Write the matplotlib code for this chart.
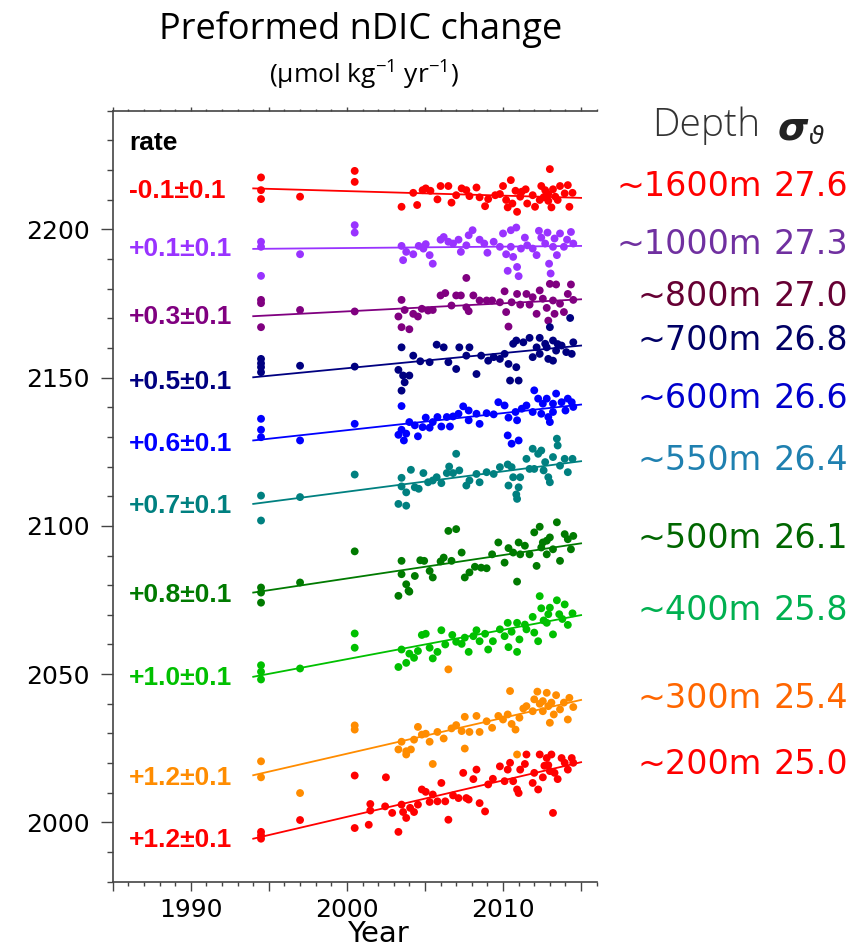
import matplotlib
matplotlib.use('Agg')
import matplotlib.pyplot as plt
from matplotlib.ticker import MultipleLocator

plt.rcParams['mathtext.fontset'] = 'custom'
plt.rcParams['mathtext.rm'] = 'Open Sans'
plt.rcParams['mathtext.it'] = 'Open Sans:italic'
plt.rcParams['mathtext.bf'] = 'Open Sans:bold'

# ---------------- data ----------------
depth_labels = ['~1600m', '~1000m', '~800m', '~700m', '~600m', '~550m', '~500m', '~400m', '~300m', '~200m']
sigma_labels = ['27.6', '27.3', '27.0', '26.8', '26.6', '26.4', '26.1', '25.8', '25.4', '25.0']
rate_labels = ['-0.1\u00b10.1', '+0.1\u00b10.1', '+0.3\u00b10.1', '+0.5\u00b10.1', '+0.6\u00b10.1',
               '+0.7\u00b10.1', '+0.8\u00b10.1', '+1.0\u00b10.1', '+1.2\u00b10.1', '+1.2\u00b10.1']

trend_years = [1994.0, 2015.0]
trend_start = [2213.8, 2193.4, 2170.7, 2150.1, 2128.8, 2107.4, 2077.5, 2049.1, 2015.9, 1994.5]
trend_end = [2210.6, 2194.4, 2176.4, 2160.8, 2140.9, 2121.8, 2094.1, 2069.9, 2041.3, 2020.3]

yr_1600 = [1994.5,1994.5,1994.5,1997.0,2000.5,2000.5,2003.5,2004.25,2004.5,2004.85,2005.05,2005.35,2005.8,2006.0,2006.5,2006.7,2007.0,2007.35,2007.65,2007.85,2008.3,2008.5,2008.85,2009.05,2009.5,2009.8,2010.0,2010.2,2010.3,2010.5,2010.8,2010.9,2011.1,2011.45,2011.55,2011.9,2012.05,2012.45,2012.6,2012.8,2012.9,2013.0,2013.1,2013.2,2013.35,2013.5,2013.65,2013.95,2014.15,2014.25,2014.45,2012.35,2012.7,2012.9,2010.6,2011.2]
val_1600 = [2217.5,2213.2,2210.2,2211.0,2219.7,2216.0,2207.6,2212.3,2208.2,2213.2,2213.8,2213.0,2210.1,2214.6,2214.6,2209.0,2211.5,2213.8,2213.2,2211.2,2214.1,2210.8,2207.8,2210.2,2211.5,2211.9,2214.6,2209.9,2207.4,2216.6,2213.0,2205.9,2211.0,2213.5,2208.7,2211.5,2207.6,2214.6,2210.8,2212.1,2209.6,2220.3,2207.4,2213.5,2211.0,2209.9,2214.6,2212.1,2214.9,2207.6,2212.3,2209.9,2213.2,2211.9,2208.7,2212.7]

yr_1000 = [1994.5,1994.5,1994.5,1997.0,2000.5,2000.5,2003.5,2003.6,2003.8,2004.25,2004.6,2004.9,2005.05,2005.3,2005.5,2006.0,2006.2,2006.5,2006.8,2007.15,2007.3,2007.65,2007.8,2008.05,2008.5,2008.8,2009.0,2009.4,2009.8,2010.0,2010.2,2010.3,2010.5,2010.5,2010.65,2010.85,2010.9,2011.0,2011.15,2011.4,2011.55,2011.9,2012.15,2012.3,2012.45,2012.7,2012.85,2012.95,2013.05,2013.2,2013.3,2013.45,2013.65,2013.9,2014.1,2014.35,2014.5]
val_1000 = [2195.8,2194.1,2184.3,2191.6,2201.4,2198.9,2194.4,2189.6,2192.4,2191.6,2194.4,2193.5,2195.0,2191.3,2188.4,2196.5,2197.4,2195.8,2195.2,2196.5,2192.4,2194.6,2198.0,2199.7,2196.5,2195.2,2192.1,2195.8,2194.1,2198.6,2191.6,2186.0,2199.7,2194.1,2190.7,2200.6,2187.3,2184.2,2193.5,2197.2,2194.6,2193.5,2191.3,2199.5,2197.2,2195.2,2198.9,2188.4,2185.1,2194.1,2196.9,2191.3,2198.6,2194.1,2196.5,2199.1,2195.2]

yr_800 = [1994.5,1994.5,1994.5,1997.0,2000.5,2003.5,2003.3,2003.5,2003.7,2004.0,2004.25,2004.55,2004.8,2005.2,2005.5,2006.0,2006.3,2006.7,2007.0,2007.3,2007.65,2007.8,2008.1,2007.65,2008.5,2008.95,2009.3,2009.8,2010.1,2010.2,2010.35,2010.55,2010.9,2011.1,2011.5,2011.9,2012.15,2012.35,2012.55,2012.8,2013.0,2013.2,2013.3,2013.4,2013.65,2013.9,2014.15,2014.35,2014.5,2012.9,2011.7]
val_800 = [2176.2,2175.1,2167.0,2172.8,2172.3,2176.2,2170.6,2167.0,2172.8,2166.3,2171.5,2170.6,2173.2,2172.6,2172.8,2177.7,2178.5,2174.3,2177.7,2177.7,2173.7,2172.4,2177.7,2183.6,2176.0,2176.0,2176.0,2175.4,2179.1,2172.1,2167.2,2175.4,2178.2,2174.6,2178.2,2177.1,2171.5,2179.4,2176.6,2173.5,2181.6,2176.0,2171.5,2181.4,2174.9,2172.1,2178.2,2181.4,2176.2,2169.2,2174.6]

yr_700 = [1994.5,1994.5,1994.5,1994.5,1997.0,2000.5,2003.3,2003.5,2003.6,2003.7,2003.5,2004.0,2004.25,2004.7,2005.3,2005.75,2006.2,2006.5,2007.0,2007.2,2007.65,2007.85,2008.3,2008.6,2009.05,2009.4,2009.8,2010.1,2010.35,2010.45,2010.85,2011.0,2010.65,2011.3,2011.9,2012.15,2012.35,2012.7,2012.9,2013.2,2013.4,2013.75,2014.05,2014.4,2014.5,2010.85,2011.7,2012.35,2013.0,2014.3,2012.8,2013.2,2013.5]
val_700 = [2156.3,2154.8,2153.5,2151.8,2154.0,2153.7,2152.6,2160.2,2150.7,2148.4,2145.6,2150.7,2157.4,2155.5,2155.2,2161.1,2160.2,2155.2,2152.9,2160.2,2157.4,2160.2,2151.2,2157.4,2155.7,2156.9,2156.3,2158.0,2154.6,2149.0,2153.5,2149.0,2161.4,2161.9,2156.9,2160.2,2158.0,2161.4,2156.3,2155.7,2159.1,2160.8,2158.6,2158.0,2161.9,2162.5,2163.4,2163.4,2167.0,2170.1,2160.2,2162.5,2161.3]

yr_600 = [1994.5,1994.5,1994.5,1997.0,2000.5,2003.3,2003.5,2003.5,2003.65,2003.8,2004.0,2004.35,2004.55,2004.85,2005.05,2005.3,2005.5,2005.8,2006.05,2006.4,2006.6,2006.8,2007.15,2007.45,2007.8,2007.8,2008.3,2008.5,2008.95,2009.4,2009.7,2010.1,2010.3,2010.35,2010.55,2010.8,2010.9,2011.0,2011.2,2011.5,2011.9,2012.0,2012.25,2012.55,2012.8,2012.9,2013.0,2013.2,2013.4,2013.75,2014.0,2014.15,2014.4,2014.5,2012.45,2013.2]
val_600 = [2136.1,2132.4,2129.9,2128.8,2134.4,2130.7,2140.4,2132.4,2128.8,2131.1,2135.0,2133.9,2130.2,2133.3,2136.5,2133.1,2135.0,2136.7,2133.5,2136.7,2133.5,2136.9,2137.8,2140.3,2135.6,2138.9,2137.8,2134.4,2138.0,2137.6,2141.7,2140.6,2130.5,2136.5,2127.7,2138.4,2135.6,2128.8,2139.5,2140.6,2138.4,2145.7,2142.9,2141.2,2142.9,2136.7,2135.0,2138.4,2144.6,2141.7,2138.9,2142.9,2141.7,2140.1,2137.8,2141.2]

yr_550 = [1994.5,1994.5,1997.0,2000.5,2003.3,2003.8,2003.5,2003.5,2003.8,2004.1,2004.35,2004.6,2004.9,2005.2,2005.5,2005.75,2006.05,2006.4,2006.55,2006.8,2007.0,2007.2,2007.65,2007.85,2008.3,2008.5,2008.95,2009.4,2009.8,2010.3,2010.35,2010.55,2010.65,2010.85,2010.9,2011.0,2011.1,2011.5,2011.9,2012.0,2012.25,2012.45,2012.7,2012.9,2013.0,2013.2,2013.45,2013.5,2013.65,2013.95,2014.15,2014.45,2012.6,2011.7]
val_550 = [2110.2,2101.8,2109.7,2117.3,2107.4,2106.8,2116.2,2113.3,2111.3,2118.9,2113.0,2112.5,2117.8,2114.7,2115.3,2116.4,2114.4,2117.8,2120.0,2117.8,2124.3,2118.7,2113.6,2115.3,2117.5,2114.7,2118.1,2117.5,2119.8,2120.7,2113.6,2119.8,2116.4,2110.6,2109.1,2113.0,2116.4,2122.6,2126.0,2119.2,2124.3,2125.4,2121.5,2116.4,2114.7,2123.2,2129.4,2127.1,2120.3,2122.6,2118.1,2122.6,2118.7,2119.2]

yr_500 = [1994.5,1994.5,1994.5,1997.0,2000.5,2003.5,2003.5,2003.8,2003.95,2003.3,2004.0,2004.35,2004.7,2004.95,2005.3,2005.5,2006.0,2006.2,2006.5,2007.0,2006.7,2007.35,2007.55,2007.85,2008.2,2008.6,2008.95,2009.3,2009.7,2010.1,2010.35,2010.65,2010.9,2011.0,2011.1,2011.4,2011.7,2012.0,2012.15,2012.35,2012.55,2012.8,2013.0,2013.2,2013.45,2013.65,2013.95,2014.15,2014.35,2014.5,2012.8,2012.45]
val_500 = [2079.2,2077.5,2074.1,2080.9,2091.4,2088.2,2083.7,2080.3,2078.1,2076.4,2077.8,2083.1,2088.4,2088.2,2084.8,2082.6,2088.0,2089.3,2098.3,2098.9,2088.2,2091.0,2082.6,2084.3,2086.2,2085.9,2085.7,2090.4,2094.4,2087.6,2092.5,2091.0,2081.2,2094.4,2090.4,2093.3,2090.4,2097.8,2086.5,2099.7,2094.4,2090.4,2096.1,2092.1,2101.2,2088.2,2097.2,2095.5,2092.1,2096.6,2095.0,2092.7]

yr_400 = [1994.5,1994.5,1994.5,1997.0,2000.5,2000.5,2003.3,2003.5,2003.8,2004.0,2004.3,2004.55,2004.8,2005.05,2005.3,2005.5,2005.8,2006.05,2006.3,2006.75,2007.0,2007.35,2007.55,2007.8,2008.1,2008.3,2008.5,2008.85,2009.05,2009.35,2009.8,2010.1,2010.3,2010.35,2010.55,2010.9,2010.9,2011.05,2011.4,2011.5,2011.9,2012.0,2012.25,2012.35,2012.45,2012.6,2012.9,2013.0,2013.2,2013.45,2013.6,2013.95,2014.15,2014.45,2012.8,2013.8]
val_400 = [2053.0,2050.8,2048.2,2051.9,2063.7,2058.9,2052.4,2058.3,2053.8,2056.9,2055.5,2057.8,2063.2,2063.6,2058.9,2055.3,2057.5,2064.8,2060.0,2063.2,2060.9,2060.2,2062.3,2057.5,2062.8,2064.8,2061.1,2063.6,2058.3,2061.1,2065.1,2062.8,2067.3,2059.1,2064.3,2067.3,2057.5,2061.7,2066.7,2065.1,2069.3,2064.0,2061.1,2076.3,2072.2,2068.1,2070.2,2072.4,2063.4,2074.9,2070.2,2073.5,2066.6,2070.5,2067.3,2068.6]

yr_300 = [1994.5,1994.5,1997.0,2000.5,2000.5,2003.5,2003.3,2003.8,2003.8,2004.1,2004.3,2004.55,2004.8,2005.05,2005.3,2005.5,2005.8,2006.2,2006.5,2006.7,2007.0,2007.35,2007.55,2007.55,2007.85,2008.3,2008.5,2008.95,2009.3,2009.7,2010.0,2010.3,2010.45,2010.55,2010.8,2010.9,2011.05,2011.3,2011.5,2011.9,2012.0,2012.2,2012.35,2012.55,2012.8,2013.0,2013.1,2013.25,2013.4,2013.65,2013.9,2014.15,2014.25,2014.5,2012.55,2012.9]
val_300 = [2020.6,2015.2,2009.9,2032.7,2031.3,2027.2,2024.6,2024.0,2022.9,2024.6,2027.9,2032.2,2029.6,2029.9,2027.2,2019.7,2030.5,2028.3,2051.6,2031.7,2032.8,2030.8,2024.9,2035.6,2030.5,2035.9,2030.5,2034.1,2031.9,2035.9,2034.7,2036.4,2044.3,2033.2,2031.3,2022.9,2035.3,2038.4,2039.2,2037.5,2041.5,2044.1,2040.0,2037.5,2043.7,2033.6,2040.4,2036.4,2042.9,2038.1,2040.4,2034.7,2042.0,2038.9,2040.9,2039.2]

yr_200 = [1994.5,1994.5,1994.5,1997.0,2000.5,2000.5,2001.4,2001.5,2001.5,2002.5,2002.45,2002.9,2003.3,2003.5,2003.6,2003.8,2004.05,2004.3,2004.55,2004.8,2005.05,2005.3,2005.5,2005.8,2006.05,2006.3,2006.5,2006.8,2007.15,2007.45,2007.65,2007.8,2008.1,2008.3,2008.5,2008.85,2009.05,2009.35,2009.8,2010.1,2010.3,2010.45,2010.65,2010.9,2011.0,2011.1,2011.4,2011.5,2011.9,2012.0,2012.25,2012.35,2012.55,2012.8,2012.9,2013.1,2013.2,2013.3,2013.5,2013.75,2013.95,2014.15,2014.4,2014.5,2012.65,2013.0]
val_200 = [1996.8,1995.6,1994.5,2000.8,1998.1,2015.8,1999.2,2006.2,2004.0,2015.2,2005.4,2003.2,1996.8,2006.0,2003.5,2001.5,2004.9,2003.5,2006.0,2011.1,2010.3,2006.9,2009.4,2007.1,2013.3,2007.1,2000.9,2009.1,2008.2,2016.7,2008.2,2007.7,2014.6,2017.8,2006.5,2003.7,2012.8,2014.7,2018.9,2013.9,2017.8,2020.1,2013.9,2011.1,2009.9,2017.8,2019.7,2022.9,2013.3,2016.7,2011.1,2022.9,2015.2,2021.7,2019.3,2022.9,2003.2,2016.7,2014.6,2021.7,2020.1,2017.8,2021.7,2020.1,2019.1,2017.3]

# ---------------- styles ----------------
point_colors = ['#FF0000', '#9933FF', '#800080', '#000080', '#0000FF',
                '#008080', '#007A00', '#00C000', '#FF8C00', '#FF0000']
label_colors = ['#FF0000', '#7030A0', '#660033', '#000066', '#0000CC',
                '#1F80B0', '#006600', '#00B050', '#FF6600', '#FF0000']
rate_label_y = [2213.0, 2193.2, 2170.4, 2148.4, 2127.6, 2106.8, 2076.7, 2048.8, 2015.0, 1994.2]
right_label_py = [187, 245, 297, 341, 399, 461, 539, 611, 698, 764]

series_years = [yr_1600, yr_1000, yr_800, yr_700, yr_600, yr_550, yr_500, yr_400, yr_300, yr_200]
series_vals = [val_1600, val_1000, val_800, val_700, val_600, val_550, val_500, val_400, val_300, val_200]

W, H = 858, 951
fig = plt.figure(figsize=(W / 100, H / 100), dpi=100)
ax = fig.add_axes([112.7 / W, 1 - 881.7 / H, 484.0 / W, 771.0 / H])

for yrs, vals, t0, t1, col in zip(series_years, series_vals, trend_start, trend_end, point_colors):
    ax.scatter(yrs, vals, s=32, color=col, edgecolors='none', zorder=3)
    ax.plot(trend_years, [t0, t1], color=col, lw=1.3, zorder=4)

for lab, y, col in zip(rate_labels, rate_label_y, point_colors):
    ax.text(1986.06, y, lab, color=col, fontsize=19, fontweight='bold',
            family='Liberation Sans', ha='left', va='center')
ax.text(1986.06, 2229.0, 'rate', color='black', fontsize=19, fontweight='bold',
        family='Liberation Sans', ha='left', va='center')

ax.set_xlim(1985, 2016)
ax.set_ylim(1980, 2240)

spine_col = '#444444'
for side in ['left', 'bottom', 'top']:
    ax.spines[side].set_color(spine_col)
    ax.spines[side].set_linewidth(1.2)
ax.spines['right'].set_visible(False)

ax.xaxis.set_minor_locator(MultipleLocator(1))
ax.yaxis.set_minor_locator(MultipleLocator(10))
ax.set_xticks([1985, 1990, 1995, 2000, 2005, 2010, 2015])
ax.set_xticklabels(['', '1990', '', '2000', '', '2010', ''])
ax.set_yticks([2000, 2050, 2100, 2150, 2200])
ax.set_yticklabels(['2000', '2050', '2100', '2150', '2200'])

ax.tick_params(axis='y', which='major', direction='out', length=8.6, width=1.0,
               color=spine_col, labelsize=18, pad=8, right=False)
ax.tick_params(axis='y', which='minor', direction='out', length=4.3, width=1.0,
               color=spine_col, right=False)
ax.tick_params(axis='x', which='major', direction='out', length=6.5, width=1.0,
               color=spine_col, labelsize=18, pad=5.5, top=False)
ax.tick_params(axis='x', which='minor', direction='out', length=3.1, width=1.0,
               color=spine_col, top=False)

sec = ax.secondary_xaxis('top')
sec.xaxis.set_major_locator(MultipleLocator(5))
sec.xaxis.set_minor_locator(MultipleLocator(1))
sec.tick_params(which='major', direction='out', length=3.0, width=1.0, color=spine_col, labeltop=False)
sec.tick_params(which='minor', direction='out', length=1.8, width=1.0, color=spine_col)
sec.spines['top'].set_visible(False)

# x-axis title (kept inside the canvas)
fig.text(377.6 / W, 2.5 / H, 'Year', fontsize=21, ha='center', va='bottom', color='black')

# titles
fig.text(360.5 / W, 1 - 30 / H, 'Preformed nDIC change', fontsize=26, family='Open Sans',
         ha='center', va='center', color='black')
fig.text(364 / W, 1 - 75 / H, '(\u00b5mol kg$^{-1}$ yr$^{-1}$)', fontsize=19, family='Open Sans',
         ha='center', va='center', color='black')

# right-hand labels
fig.text(760 / W, 1 - 126 / H, 'Depth', fontsize=28, family='Open Sans', fontweight='light',
         ha='right', va='center', color='#333333')
fig.text(778 / W, 1 - 128 / H, '\u03c3', fontsize=28, family='DejaVu Sans', fontweight='bold',
         fontstyle='italic', ha='left', va='center', color='#222222')
fig.text(809 / W, 1 - 137 / H, '\u03d1', fontsize=18, family='DejaVu Sans',
         fontstyle='italic', ha='left', va='center', color='#222222')
for dl, sl, py, col in zip(depth_labels, sigma_labels, right_label_py, label_colors):
    fig.text(762 / W, 1 - py / H, dl, fontsize=24, family='DejaVu Sans', ha='right',
             va='center', color=col)
    fig.text(848 / W, 1 - py / H, sl, fontsize=24, family='DejaVu Sans', ha='right',
             va='center', color=col)

fig.savefig('out.png', dpi=100)
